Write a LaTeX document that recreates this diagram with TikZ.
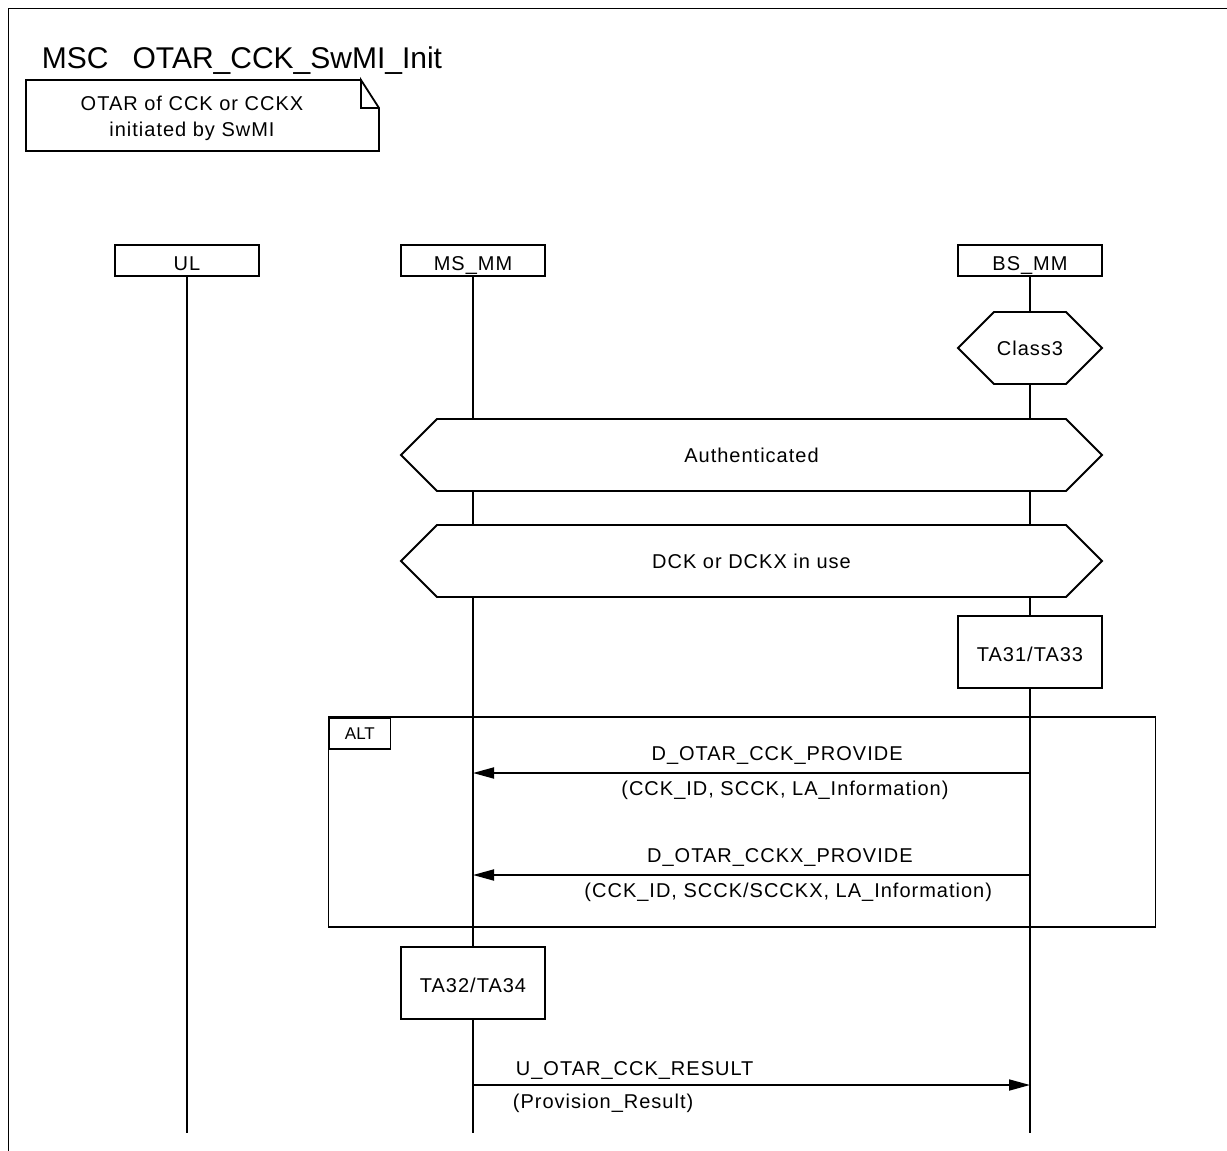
\documentclass[tikz,border=0pt]{standalone}
\usepackage{fontspec}
\setmainfont{Liberation Sans}
\newfontfamily\lblfamily[LetterSpace=5]{Liberation Sans}
\usetikzlibrary{arrows.meta,shapes.symbols,calc}

\newcommand{\msgfont}{\lblfamily\fontsize{20}{26}\selectfont}

\tikzset{
  boxtext/.style={font=\msgfont, text height=19.2pt, text depth=0pt},
  instbox/.style={draw, fill=white, minimum width=144pt, minimum height=31pt, inner sep=0pt, boxtext},
  condbox/.style={draw, fill=white, shape=signal, signal to=west and east, signal pointer angle=90,
                  minimum height=72pt, inner sep=0pt, font=\msgfont, text height=15.2pt, text depth=0pt},
  timerbox/.style={draw, fill=white, minimum width=144pt, minimum height=72pt, inner sep=0pt, boxtext},
  msg/.style={-{Triangle[length=21pt,width=11pt]}},
  lbl/.style={font=\msgfont, inner sep=0pt, text height=14.3pt, text depth=0pt},
}

\begin{document}
\begin{tikzpicture}[x=1pt, y=-1pt, line width=1.8pt]
  \useasboundingbox (0,0) rectangle (1227,1151);

  % Outer frame (runs off the page on the right and at the bottom)
  \draw (1240,8.5) -- (8.5,8.5) -- (8.5,1160);

  % Title and comment
  \node[anchor=base west, inner sep=0pt, font=\fontsize{30}{34}\selectfont] (title) at (41,68)
    {MSC\hspace{24pt}OTAR\_CCK\_SwMI\_Init};
  \node[font=\msgfont, inner sep=0pt, align=center] (note) at (192,118) {OTAR of CCK or CCKX\\initiated by SwMI};
  \draw (361,80) -- (26,80) -- (26,151) -- (379,151) -- (379,108) -- (361,80) -- (361,108) -- (379,108);

  % Instances and lifelines
  \foreach \name/\x/\txt in {ul/187/UL, ms/473/MS\_MM, bs/1030/BS\_MM} {
    \node[instbox] (\name) at (\x,260.5) {\txt};
    \coordinate (\name-end) at (\x,1133);
    \draw (\name) -- (\name-end);
  }

  % Conditions
  \node[condbox, minimum width=144pt] (class3) at (1030,348) {Class3};
  \node[condbox, minimum width=701pt] (auth) at (751.5,455) {Authenticated};
  \node[condbox, minimum width=701pt] (dck) at (751.5,561) {DCK or DCKX in use};

  % Timer on BS_MM
  \node[timerbox] (ta31) at (1030,652) {TA31/TA33};

  % ALT inline expression
  \draw (328.5,717) rectangle (1155.5,927);
  \node[draw, anchor=north west, minimum width=61pt, minimum height=31pt, inner sep=0pt,
        font=\fontsize{17}{18}\selectfont] (alt) at (328.5,717) {ALT};

  % Messages inside ALT
  \coordinate (bs-m1) at (1030,773);
  \coordinate (ms-m1) at (473,773);
  \coordinate (bs-m2) at (1030,875);
  \coordinate (ms-m2) at (473,875);
  \draw[msg] (bs-m1) -- (ms-m1)
    node[lbl, pos=0.454, yshift=19.5pt] {D\_OTAR\_CCK\_PROVIDE}
    node[lbl, pos=0.440, yshift=-15.5pt] {(CCK\_ID, SCCK, LA\_Information)};
  \draw[msg] (bs-m2) -- (ms-m2)
    node[lbl, pos=0.449, yshift=20pt] {D\_OTAR\_CCKX\_PROVIDE}
    node[lbl, pos=0.434, yshift=-15.5pt] {(CCK\_ID, SCCK/SCCKX, LA\_Information)};

  % Timer on MS_MM
  \node[timerbox] (ta32) at (473,983) {TA32/TA34};

  % Result back to BS_MM
  \coordinate (ms-m3) at (473,1085);
  \coordinate (bs-m3) at (1030,1085);
  \draw[msg] (ms-m3) -- (bs-m3)
    node[lbl, pos=0, anchor=west, xshift=42pt, yshift=16.5pt] {U\_OTAR\_CCK\_RESULT}
    node[lbl, pos=0, anchor=west, xshift=39pt, yshift=-16pt] {(Provision\_Result)};
\end{tikzpicture}
\end{document}
